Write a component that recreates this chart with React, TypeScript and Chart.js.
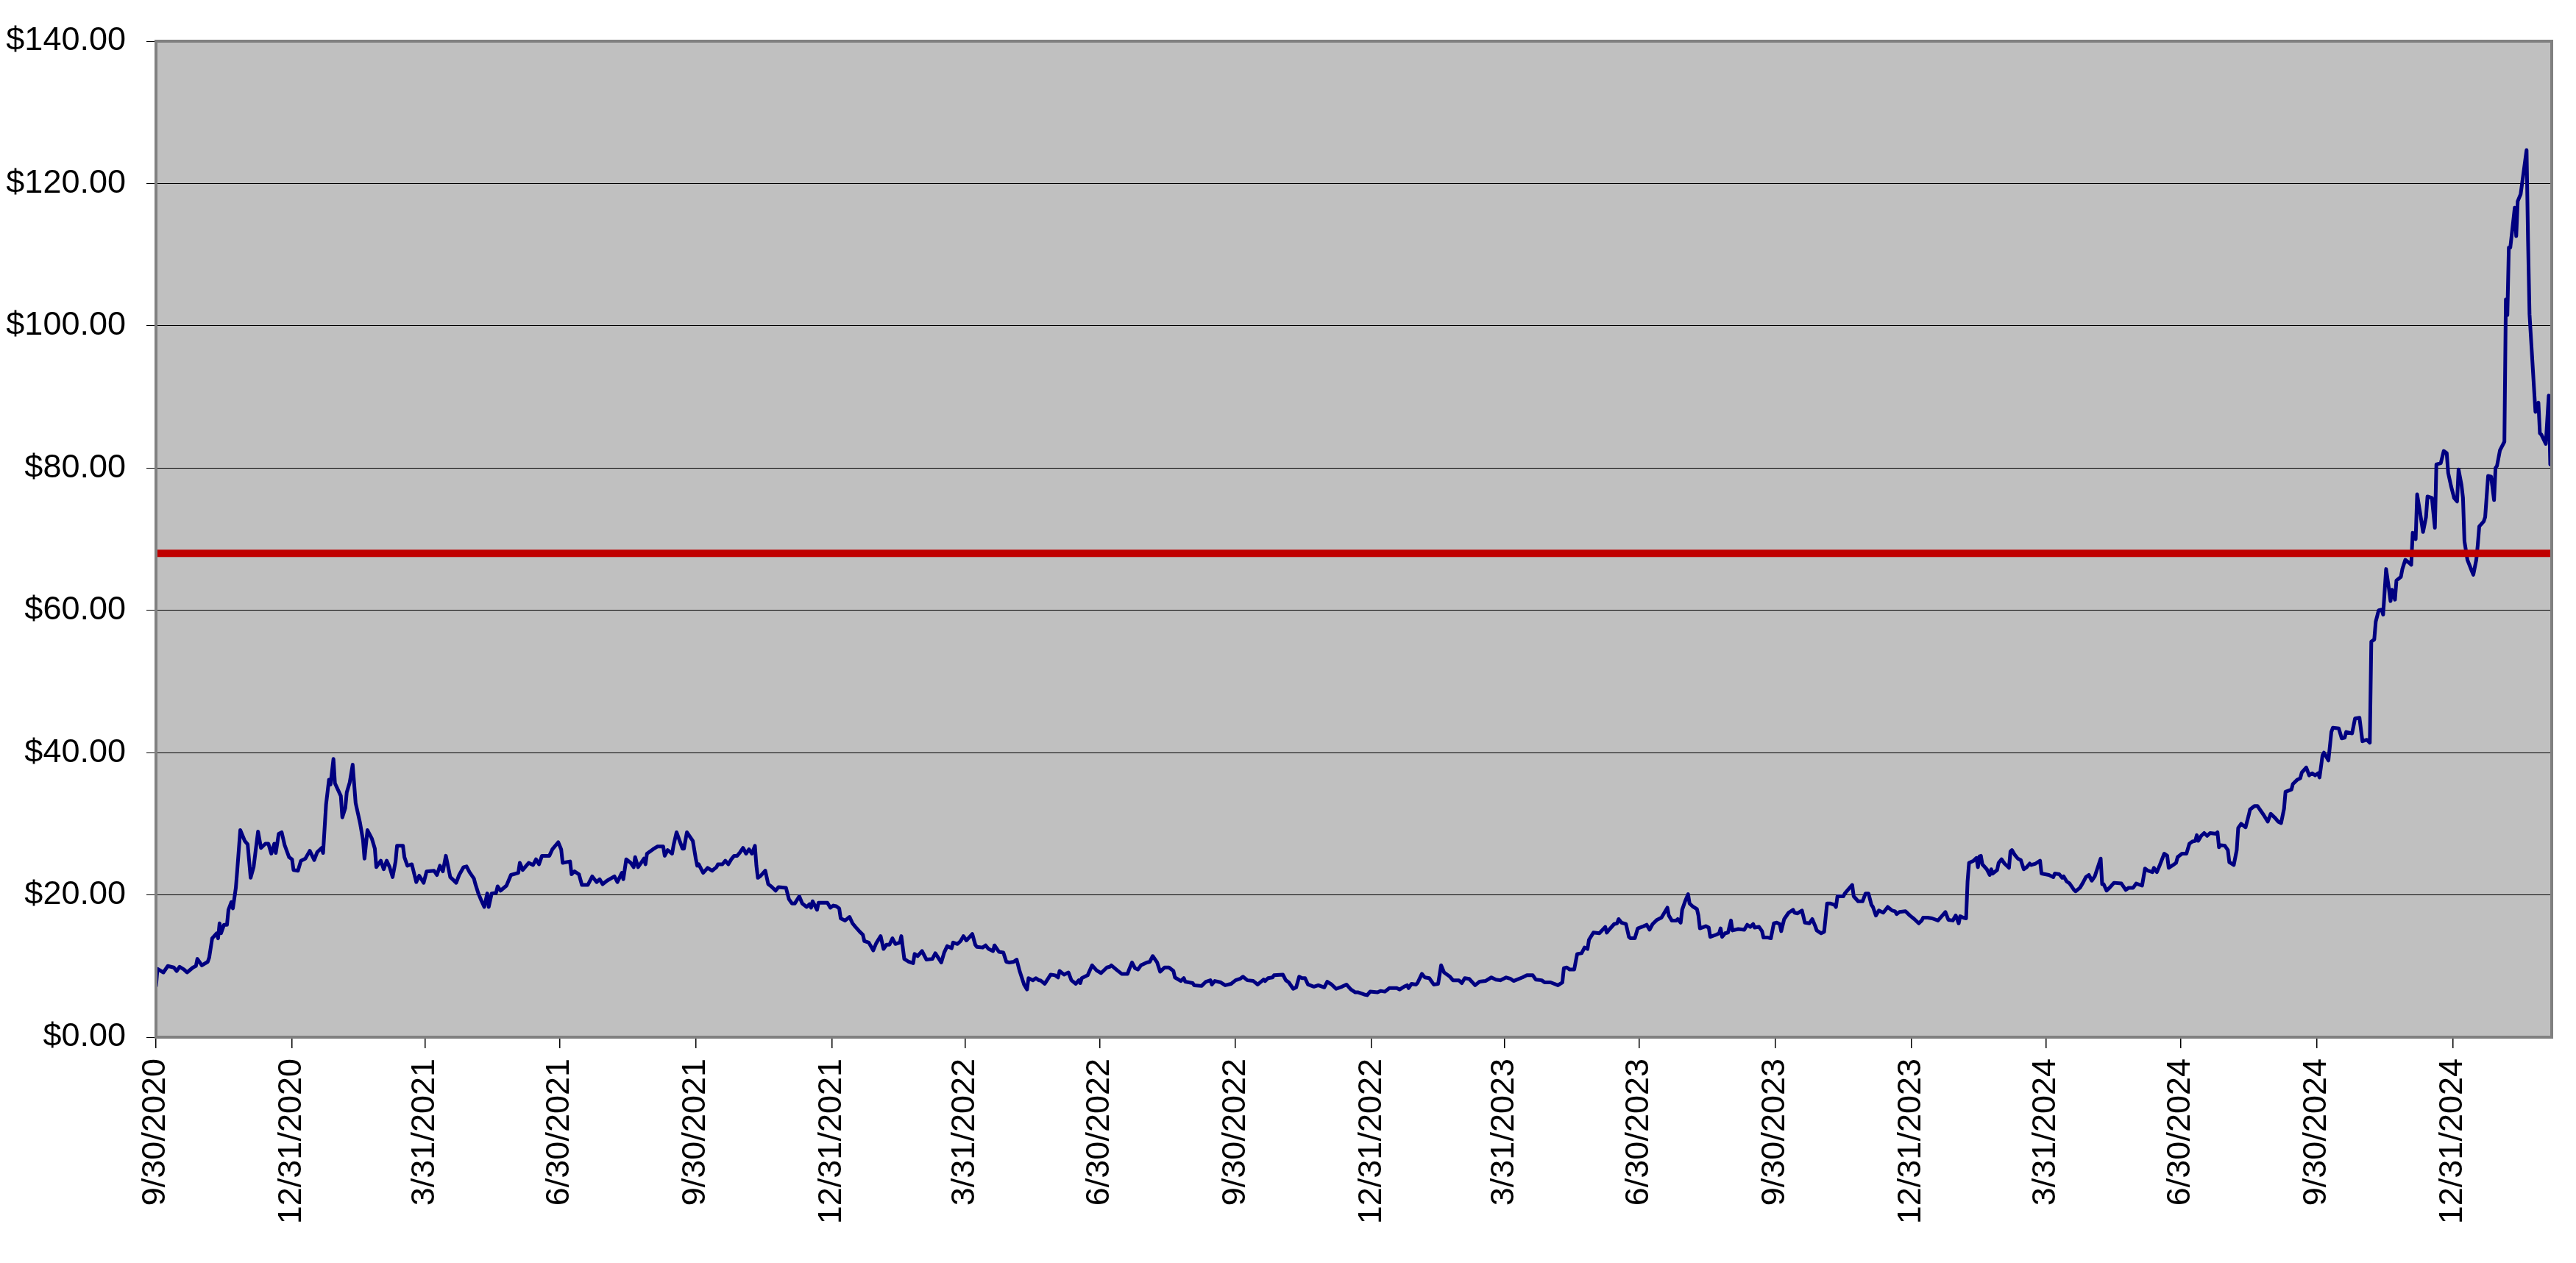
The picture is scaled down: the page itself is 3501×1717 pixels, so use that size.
import React, { useEffect, useRef } from "react";
import { Chart, registerables } from "chart.js";

Chart.register(...registerables);

// ---- Data (x = days since 9/30/2020, y = closing price in $) ----
const startDate = "9/30/2020";

const quarterLabels = [
  "9/30/2020", "12/31/2020", "3/31/2021", "6/30/2021", "9/30/2021", "12/31/2021",
  "3/31/2022", "6/30/2022", "9/30/2022", "12/31/2022", "3/31/2023", "6/30/2023",
  "9/30/2023", "12/31/2023", "3/31/2024", "6/30/2024", "9/30/2024", "12/31/2024",
];

const referenceLevel = 68;

const yAxisMin = 0;
const yAxisMax = 140;
const yAxisStep = 20;

const closesSep2020toNov2021: [number, number][] = [
  [0,7.1],[1,9.6],[5,9.1],[8,10.0],[12,9.8],[14,9.3],[16,9.9],[19,9.5],[21,9.1],[25,9.8],
  [27,10.0],[28,11.0],[31,10.1],[35,10.6],[36,11.2],[38,13.9],[41,14.6],[42,13.9],[43,16.0],[44,14.6],
  [46,15.8],[48,15.8],[49,17.9],[51,19.0],[52,18.1],[54,21.0],[55,23.6],[57,29.1],[60,27.6],[62,27.1],
  [64,22.4],[66,23.9],[69,28.9],[71,26.6],[74,27.2],[76,27.2],[78,25.8],[80,27.2],[81,25.9],[83,28.6],
  [85,28.8],[87,27.0],[90,25.3],[92,25.0],[93,23.5],[96,23.4],[98,24.8],[101,25.1],[104,26.2],[107,24.9],
  [109,26.0],[112,26.6],[113,25.9],[115,32.7],[117,36.2],[118,35.5],[120,39.1],[121,35.7],[125,33.9],[126,30.9],
  [128,32.2],[129,34.4],[131,35.8],[133,38.3],[135,32.9],[138,30.1],[140,27.7],[141,25.1],[143,29.1],[146,27.9],
  [148,26.5],[149,23.9],[152,24.8],[154,23.6],[156,24.8],[158,23.9],[160,22.5],[162,24.7],[163,26.9],[167,26.9],
  [168,25.3],[170,24.1],[173,24.3],[176,21.8],[178,22.7],[181,21.7],[183,23.3],[188,23.4],[190,22.8],[192,24.1],
  [194,23.3],[196,25.5],[198,23.5],[199,22.5],[203,21.7],[205,22.8],[208,23.9],[210,24.0],[212,23.2],[215,22.3],
  [216,21.5],[218,20.2],[220,19.2],[222,18.3],[224,20.2],[225,18.3],[227,20.2],[230,20.3],[231,21.2],[233,20.6],
  [237,21.3],[240,22.8],[245,23.1],[246,24.5],[248,23.5],[252,24.5],[255,24.2],[257,25.0],[259,24.3],[261,25.5],
  [266,25.5],[268,26.4],[272,27.4],[274,26.4],[275,24.5],[280,24.7],[281,22.9],[283,23.3],[286,22.9],[288,21.4],
  [292,21.4],[295,22.6],[298,21.8],[300,22.2],[302,21.5],[305,22.0],[310,22.6],[312,21.8],[315,23.1],[316,22.2],
  [318,25.0],[321,24.5],[323,23.9],[324,25.3],[326,23.9],[330,25.1],[331,24.3],[332,25.8],[336,26.4],[339,26.8],
  [343,26.8],[344,25.5],[346,26.3],[349,25.8],[350,27.0],[352,28.8],[356,26.5],[357,26.5],[359,28.8],[363,27.6],
  [365,25.1],[366,24.1],[367,24.3],[370,23.1],[373,23.8],[376,23.4],[379,23.9],[380,24.3],[383,24.3],[385,24.8],
  [387,24.3],[389,25.0],[391,25.5],[393,25.5],[395,26.0],[397,26.6],[399,25.8],[401,26.4],[403,25.8],[405,26.9],
  [406,24.1],[407,22.4],[409,22.7],[412,23.4],
];

const closesNov2021toAug2022: [number, number][] = [
  [414,21.5],[416,21.2],[419,20.6],[421,21.1],[426,21.0],[428,19.4],[430,18.8],[432,18.8],[435,19.8],[437,18.8],
  [440,18.3],[442,18.7],[443,18.2],[444,19.1],[447,17.9],[448,18.9],[454,18.9],[456,18.2],[458,18.5],[460,18.4],
  [462,18.1],[463,16.7],[466,16.4],[469,16.9],[471,16.0],[473,15.5],[476,14.8],[478,14.4],[479,13.5],[482,13.3],
  [485,12.2],[487,13.2],[490,14.2],[492,12.4],[494,13.0],[496,13.0],[498,13.9],[500,13.1],[503,13.3],[504,14.2],
  [506,11.0],[509,10.6],[512,10.4],[513,11.7],[515,11.4],[518,12.1],[521,10.9],[525,11.0],[527,11.8],[531,10.5],
  [533,11.9],[535,12.8],[538,12.5],[539,13.3],[542,13.1],[544,13.5],[546,14.2],[548,13.6],[552,14.5],[554,13.0],
  [555,12.7],[559,12.6],[561,12.9],[563,12.4],[566,12.1],[567,12.9],[570,12.0],[573,11.9],[575,10.6],[577,10.5],
  [580,10.6],[582,10.9],[584,9.3],[587,7.4],[589,6.7],[590,8.3],[593,8.0],[595,8.3],[597,8.0],[598,8.0],
  [601,7.5],[605,8.8],[608,8.7],[610,8.4],[611,9.3],[614,8.8],[617,9.1],[619,8.0],[622,7.5],[624,8.0],
  [625,7.6],[626,8.3],[630,8.7],[633,10.1],[636,9.4],[639,9.0],[643,9.8],[645,9.9],[646,10.1],[650,9.4],
  [653,8.9],[657,8.9],[658,9.5],[660,10.5],[662,9.7],[664,9.5],[666,10.1],[670,10.5],[672,10.6],[674,11.4],
  [677,10.5],[679,9.2],[680,9.4],[682,9.8],[685,9.8],
];

const closesAug2022toMay2023: [number, number][] = [
  [688,9.3],[689,8.4],[693,7.9],[695,8.3],[696,7.8],[701,7.6],[702,7.3],[707,7.2],[710,7.8],[713,8.0],
  [714,7.4],[716,7.9],[720,7.7],[723,7.3],[727,7.5],[730,8.0],[733,8.2],[735,8.5],[738,8.0],[742,7.9],
  [745,7.4],[749,8.1],[750,7.9],[752,8.3],[755,8.4],[756,8.7],[762,8.8],[764,8.0],[766,7.7],[769,6.8],
  [771,7.0],[773,8.5],[775,8.3],[777,8.3],[779,7.4],[783,7.1],[786,7.3],[790,7.0],[792,7.8],[795,7.4],
  [798,6.8],[802,7.1],[805,7.4],[808,6.7],[811,6.3],[813,6.3],[817,6.0],[819,5.9],[821,6.4],[826,6.3],
  [828,6.5],[831,6.4],[834,6.9],[839,6.9],[841,6.7],[844,7.1],[846,7.3],[847,6.9],[849,7.5],[852,7.4],
  [853,7.6],[856,8.9],[858,8.4],[861,8.3],[864,7.4],[867,7.5],[869,10.1],[871,9.1],[875,8.5],[877,8.0],
  [881,8.0],[883,7.6],[885,8.3],[888,8.2],[892,7.3],[895,7.8],[899,7.9],[903,8.4],[906,8.1],[909,8.0],
  [913,8.4],[916,8.2],[918,7.9],[924,8.4],[927,8.7],[931,8.7],[933,8.1],[937,8.0],[939,7.7],[943,7.7],
  [948,7.3],[951,7.7],[952,9.7],[954,9.8],[956,9.5],[959,9.5],
];

const closesMay2023toFeb2024: [number, number][] = [
  [961,11.7],[964,11.8],[966,12.6],[968,12.4],[969,13.7],[972,14.7],[976,14.6],[980,15.5],[981,14.7],[983,15.2],
  [986,15.9],[988,16.0],[989,16.6],[991,16.1],[994,15.9],[996,14.1],[997,13.9],[1000,13.9],[1002,15.3],[1006,15.6],
  [1008,15.8],[1010,15.1],[1012,15.9],[1015,16.5],[1018,16.8],[1020,17.5],[1022,18.2],[1023,17.1],[1025,16.4],[1028,16.4],
  [1029,16.6],[1031,16.1],[1032,17.9],[1034,19.1],[1036,20.1],[1037,18.8],[1039,18.4],[1042,18.0],[1043,17.1],[1044,15.3],
  [1048,15.6],[1050,15.4],[1051,14.1],[1055,14.4],[1057,14.6],[1058,15.3],[1059,14.1],[1061,14.6],[1063,14.7],[1065,16.4],
  [1066,15.0],[1070,15.2],[1074,15.1],[1076,15.8],[1078,15.5],[1080,15.9],[1081,15.4],[1084,15.5],[1086,14.9],[1087,14.0],
  [1090,14.0],[1092,13.9],[1094,16.0],[1096,16.1],[1098,15.9],[1099,14.9],[1101,16.6],[1104,17.5],[1107,17.9],[1108,17.5],
  [1110,17.4],[1113,17.8],[1115,16.1],[1118,16.0],[1120,16.6],[1122,15.6],[1123,15.0],[1126,14.6],[1128,14.8],[1130,18.8],
  [1132,18.8],[1135,18.6],[1136,18.3],[1137,19.8],[1139,19.8],[1141,19.8],[1142,20.2],[1144,20.7],[1147,21.4],[1148,19.8],
  [1151,19.1],[1154,19.1],[1156,20.2],[1158,20.2],[1160,18.6],[1161,18.3],[1163,17.1],[1165,17.8],[1168,17.5],[1171,18.3],
  [1174,17.8],[1176,17.7],[1177,17.3],[1179,17.6],[1183,17.7],[1186,17.1],[1189,16.6],[1192,16.0],[1194,16.4],[1195,16.8],
  [1198,16.8],[1201,16.7],[1205,16.4],[1210,17.6],[1212,16.5],[1215,16.4],[1217,17.1],[1219,16.0],[1220,17.0],[1222,16.8],
  [1224,16.7],[1225,21.9],[1226,24.5],[1229,24.8],[1231,25.2],[1232,23.9],[1233,25.4],[1234,25.5],[1235,24.3],
];

const closesFeb2024toNov2024: [number, number][] = [
  [1238,23.6],[1240,22.8],[1241,23.6],[1242,23.0],[1245,23.5],[1246,24.5],[1248,25.0],[1250,24.4],[1253,23.8],[1254,26.1],
  [1255,26.3],[1257,25.6],[1259,25.1],[1261,24.9],[1263,23.6],[1265,23.9],[1267,24.4],[1268,24.2],[1271,24.4],[1274,24.8],
  [1275,23.0],[1280,22.8],[1283,22.5],[1284,23.0],[1287,22.9],[1289,22.4],[1290,22.6],[1292,21.9],[1294,21.6],[1297,20.7],
  [1298,20.5],[1301,21.0],[1303,21.7],[1305,22.5],[1307,22.8],[1309,22.0],[1311,22.6],[1315,25.1],[1316,21.5],[1317,21.5],
  [1319,20.6],[1321,21.0],[1324,21.7],[1329,21.6],[1332,20.7],[1334,21.0],[1337,21.0],[1339,21.6],[1343,21.3],[1345,23.7],
  [1347,23.4],[1350,23.2],[1351,23.8],[1353,23.2],[1355,24.2],[1358,25.8],[1360,25.5],[1361,23.8],[1364,24.2],[1366,24.5],
  [1367,25.3],[1370,25.8],[1373,25.8],[1375,27.2],[1377,27.5],[1379,27.6],[1380,28.4],[1381,27.6],[1383,28.3],[1385,28.7],
  [1387,28.3],[1389,28.7],[1393,28.6],[1394,28.8],[1395,26.7],[1396,27.0],[1399,26.9],[1401,26.3],[1402,24.6],[1405,24.2],
  [1407,26.3],[1408,29.4],[1410,30.0],[1413,29.5],[1415,31.1],[1416,32.0],[1419,32.5],[1421,32.5],[1423,31.9],[1425,31.3],
  [1428,30.3],[1430,31.4],[1433,30.8],[1435,30.3],[1437,30.1],[1439,32.1],[1440,34.5],[1444,34.8],[1445,35.6],[1448,36.2],
  [1450,36.4],[1451,37.2],[1454,37.9],[1456,36.8],[1458,37.1],[1460,36.8],[1462,37.1],[1463,36.5],[1465,39.6],[1466,40.0],
  [1469,38.9],[1471,42.9],[1472,43.5],[1476,43.4],[1478,42.0],[1480,42.1],[1481,42.9],[1485,42.7],[1487,44.8],[1490,44.9],
  [1492,41.6],[1495,41.8],[1497,41.4],
];

const closesNov2024toMar2025: [number, number][] = [
  [1498,55.6],[1500,55.9],[1501,58.4],[1503,60.0],[1505,60.1],[1506,59.4],[1508,65.8],[1510,62.9],[1511,61.3],[1512,62.9],
  [1514,61.5],[1515,64.2],[1518,64.7],[1519,65.8],[1521,67.1],[1524,66.6],[1525,66.4],[1526,70.9],[1528,70.0],[1529,76.3],
  [1531,73.7],[1533,71.0],[1535,73.1],[1536,76.0],[1539,75.8],[1541,71.6],[1542,80.5],[1545,80.7],[1547,82.4],[1549,82.1],
  [1550,79.3],[1552,77.4],[1554,75.8],[1556,75.3],[1557,79.8],[1559,77.6],[1560,75.8],[1561,69.7],[1563,67.1],[1566,65.5],
  [1567,65.0],[1569,67.1],[1570,69.2],[1571,71.8],[1574,72.5],[1575,73.1],[1577,78.9],[1579,78.8],[1581,75.5],[1582,80.0],
  [1583,80.3],[1585,82.5],[1588,83.7],[1589,103.7],[1590,101.5],[1591,111.0],[1592,111.0],[1595,116.6],[1596,112.6],[1597,117.5],
  [1599,118.5],[1603,124.7],[1604,111.9],[1605,101.6],[1609,87.9],[1611,89.2],[1612,84.9],[1613,84.7],[1616,83.4],[1618,90.2],
  [1619,80.5],[1620,84.9],
];

const allCloses: [number, number][] = [
  ...closesSep2020toNov2021,
  ...closesNov2021toAug2022,
  ...closesAug2022toMay2023,
  ...closesMay2023toFeb2024,
  ...closesFeb2024toNov2024,
  ...closesNov2024toMar2025,
];

// ---- helpers ----
function toUTC(label: string): number {
  const [m, d, y] = label.split("/").map(Number);
  return Date.UTC(y, m - 1, d);
}
function daysSinceStart(label: string): number {
  return Math.round((toUTC(label) - toUTC(startDate)) / 86400000);
}

const FONT_FAMILY = "'Liberation Sans', Arial, Helvetica, sans-serif";
const W = 3501;
const H = 1717;

const plotFrame = {
  id: "plotFrame",
  beforeDraw(chart: any) {
    const { ctx, chartArea } = chart;
    const { left, top, right, bottom } = chartArea;
    ctx.save();
    ctx.fillStyle = "#ffffff";
    ctx.fillRect(0, 0, chart.width, chart.height);
    ctx.fillStyle = "#C0C0C0";
    ctx.fillRect(left, top, right - left, bottom - top);
    ctx.restore();
  },
  afterDatasetsDraw(chart: any) {
    const { ctx, chartArea } = chart;
    const { left, top, right, bottom } = chartArea;
    ctx.save();
    ctx.strokeStyle = "#808080";
    ctx.lineWidth = 4;
    ctx.strokeRect(left, top, right - left, bottom - top);
    ctx.restore();
  },
};

export default function App() {
  const canvasRef = useRef<HTMLCanvasElement | null>(null);

  useEffect(() => {
    document.body.style.margin = "0";
    document.body.style.overflow = "hidden";
    const canvas = canvasRef.current;
    if (!canvas) return;

    const labelByDay = new Map<number, string>();
    quarterLabels.forEach((l) => labelByDay.set(daysSinceStart(l), l));
    const lastDay = allCloses[allCloses.length - 1][0];

    const chart = new Chart(canvas, {
      type: "line",
      data: {
        datasets: [
          {
            label: "Level",
            data: [
              { x: 0, y: referenceLevel },
              { x: lastDay, y: referenceLevel },
            ],
            borderColor: "#C00000",
            borderWidth: 10,
            pointRadius: 0,
            tension: 0,
            order: 0,
          },
          {
            label: "Price",
            data: allCloses.map(([d, p]) => ({ x: d, y: p })),
            borderColor: "#000080",
            borderWidth: 5,
            pointRadius: 0,
            tension: 0,
            borderJoinStyle: "round",
            order: 1,
          },
        ],
      },
      options: {
        animation: false,
        responsive: false,
        devicePixelRatio: 1,
        layout: { padding: { top: 56, right: 33, left: 0, bottom: 0 } },
        plugins: {
          legend: { display: false },
          tooltip: { enabled: false },
        },
        scales: {
          x: {
            type: "linear",
            min: 0,
            max: lastDay,
            afterBuildTicks: (scale: any) => {
              scale.ticks = quarterLabels.map((l) => ({ value: daysSinceStart(l) }));
            },
            afterFit: (scale: any) => {
              scale.height = 307;
            },
            grid: {
              drawOnChartArea: false,
              drawTicks: true,
              tickLength: 15,
              color: "#000000",
              lineWidth: 1.5,
            },
            border: { display: false },
            ticks: {
              autoSkip: false,
              maxRotation: 90,
              minRotation: 90,
              padding: 14,
              color: "#000000",
              font: { family: FONT_FAMILY, size: 45 },
              callback: (v: any) => labelByDay.get(Number(v)) ?? "",
            },
          },
          y: {
            min: yAxisMin,
            max: yAxisMax,
            afterFit: (scale: any) => {
              scale.width = 212;
            },
            grid: {
              color: "#000000",
              lineWidth: 1,
              drawTicks: true,
              tickLength: 13,
            },
            border: { display: false },
            ticks: {
              stepSize: yAxisStep,
              padding: 28,
              color: "#000000",
              font: { family: FONT_FAMILY, size: 45 },
              callback: (v: any) => "$" + Number(v).toFixed(2),
            },
          },
        },
      },
      plugins: [plotFrame],
    } as any);

    return () => chart.destroy();
  }, []);

  return (
    <div style={{ width: W, height: H, background: "#fff" }}>
      <canvas ref={canvasRef} width={W} height={H} style={{ display: "block", width: W, height: H }} />
    </div>
  );
}
